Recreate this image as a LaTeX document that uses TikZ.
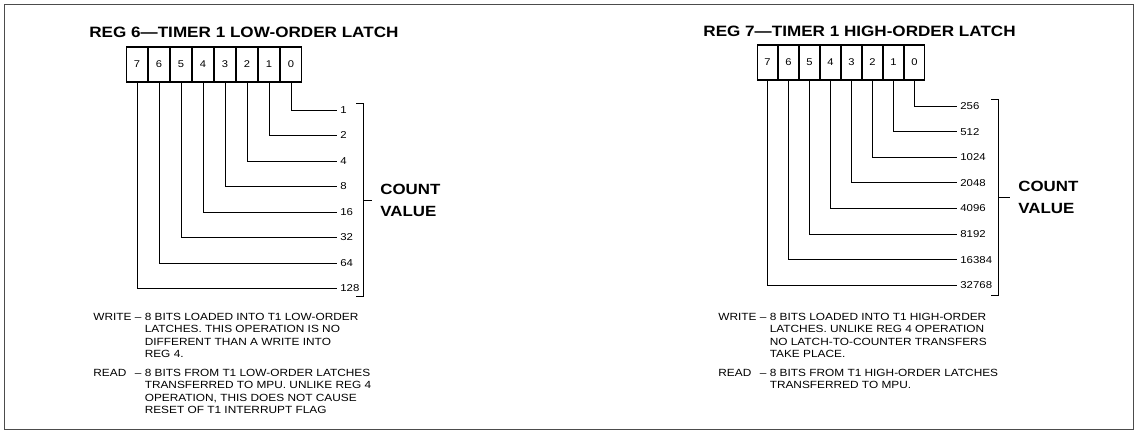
\documentclass[tikz,border=0pt]{standalone}
\usepackage{fontspec}
\setmainfont[FakeStretch=1.14]{Liberation Sans}

\tikzset{
  bitcell/.style={draw, line width=1.1pt, minimum height=35pt, inner sep=0pt, font=\fontsize{9.8}{9.8}\selectfont},
  weight/.style={anchor=west, inner xsep=3pt, inner ysep=0pt, font=\fontsize{10}{10}\selectfont},
  regtitle/.style={anchor=west, inner sep=0pt, font=\bfseries\fontsize{15}{15}\selectfont},
  countval/.style={anchor=west, inner xsep=8pt, align=left, font=\bfseries\fontsize{14.8}{22}\selectfont},
  notes/.style={anchor=base west, inner sep=0pt, font=\fontsize{10.4}{12.5}\selectfont},
}

\begin{document}
\begin{tikzpicture}[x=1pt, y=-1pt, line width=0.8pt]
  \useasboundingbox (0,0) rectangle (1138,434);
  \draw[black!70] (4,4) rectangle (1133,429);

  % --- left: REG 6, low-order latch ---
  \node[regtitle] (tlow) at (89,32) {REG 6—TIMER 1 LOW-ORDER LATCH};
  \foreach \b [count=\i from 0] in {7,...,0}
    \node[bitcell, minimum width=21pt] (lo\b) at (137+22*\i,64.5) {\b};

  % bit lines to the weights
  \foreach \b/\w in {0/1,1/2,2/4,3/8,4/16,5/32,6/64,7/128} {
    \node[weight] (wlo\b) at (337,110+25.5*\b) {\w};
    \draw (lo\b.south) |- (wlo\b.west);
  }

  % bracket + count value
  \draw (356,103) -- (363,103) -- (363,296) -- (356,296);
  \coordinate (blo) at (363,200);
  \node[countval] (cvlo) at (372,200) {COUNT\\VALUE};
  \draw (blo) -- (cvlo.west);

  \node[notes] (nlo) at (93,320) {\begin{tabular}[t]{@{}l@{\ }l@{\ }l@{}}
    WRITE & – & 8 BITS LOADED INTO T1 LOW-ORDER\\
          &   & LATCHES. THIS OPERATION IS NO\\
          &   & DIFFERENT THAN A WRITE INTO\\
          &   & REG 4.\\[6pt]
    READ  & – & 8 BITS FROM T1 LOW-ORDER LATCHES\\
          &   & TRANSFERRED TO MPU. UNLIKE REG 4\\
          &   & OPERATION, THIS DOES NOT CAUSE\\
          &   & RESET OF T1 INTERRUPT FLAG
  \end{tabular}};

  % --- right: REG 7, high-order latch ---
  \node[regtitle] (thi) at (703,31) {REG 7—TIMER 1 HIGH-ORDER LATCH};
  \foreach \b [count=\i from 0] in {7,...,0}
    \node[bitcell, minimum width=20pt] (hi\b) at (767.5+21*\i,62.5) {\b};

  % bit lines to the weights
  \foreach \b/\w in {0/256,1/512,2/1024,3/2048,4/4096,5/8192,6/16384,7/32768} {
    \node[weight] (whi\b) at (957,106+25.6*\b) {\w};
    \draw (hi\b.south) |- (whi\b.west);
  }

  % bracket + count value
  \draw (991,99) -- (998,99) -- (998,295) -- (991,295);
  \coordinate (bhi) at (998,197);
  \node[countval] (cvhi) at (1010,197) {COUNT\\VALUE};
  \draw (bhi) -- (cvhi.west);

  \node[notes] (nhi) at (718,320) {\begin{tabular}[t]{@{}l@{\ }l@{\ }l@{}}
    WRITE & – & 8 BITS LOADED INTO T1 HIGH-ORDER\\
          &   & LATCHES. UNLIKE REG 4 OPERATION\\
          &   & NO LATCH-TO-COUNTER TRANSFERS\\
          &   & TAKE PLACE.\\[6pt]
    READ  & – & 8 BITS FROM T1 HIGH-ORDER LATCHES\\
          &   & TRANSFERRED TO MPU.
  \end{tabular}};
\end{tikzpicture}
\end{document}
